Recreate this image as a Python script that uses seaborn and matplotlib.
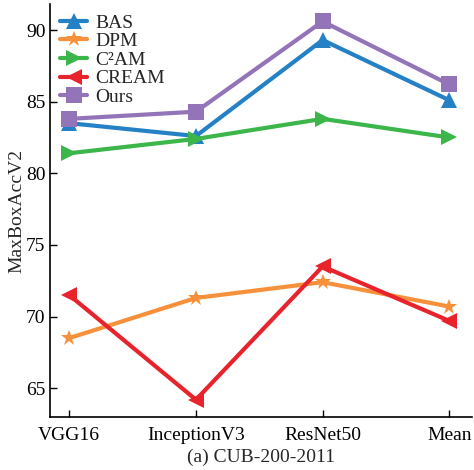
import pandas as pd
import numpy as np
import matplotlib
matplotlib.use('Agg')
import matplotlib.pyplot as plt
import seaborn as sns

# Veriler
backbones = ['VGG16', 'InceptionV3', 'ResNet50', 'Mean']
methods = ['BAS', 'DPM', 'C²AM', 'CREAM', 'Ours']
bas = [83.5, 82.6, 89.3, 85.1]
dpm = [68.5, 71.3, 72.4, 70.7]
c2am = [81.4, 82.4, 83.8, 82.5]
cream = [71.5, 64.2, 73.5, 69.7]
ours = [83.8, 84.3, 90.6, 86.2]

colors = ['#2481c5', '#f7903a', '#3cb64a', '#e8232c', '#9474b8']
marker_list = ['^', '*', '>', '<', 's']

rows = []
for m, vals in zip(methods, [bas, dpm, c2am, cream, ours]):
    for i, v in enumerate(vals):
        rows.append({'Method': m, 'pos': i, 'score': v})
df = pd.DataFrame(rows)

sns.set_style('ticks')
plt.rcParams['font.family'] = ['Liberation Serif', 'DejaVu Serif']

fig = plt.figure(figsize=(4.74, 4.70), dpi=100)
ax = fig.add_axes([0.106, 0.113, 0.89, 0.878])

sns.lineplot(data=df, x='pos', y='score', hue='Method', style='Method',
             hue_order=methods, style_order=methods,
             palette=dict(zip(methods, colors)),
             markers=dict(zip(methods, marker_list)), dashes=False,
             linewidth=3, markersize=12, markeredgewidth=0, ax=ax)

ax.set_xlim(-0.15, 3.18)
ax.set_ylim(63, 91.8)
ax.set_xticks(range(len(backbones)))
ax.set_xticklabels(backbones)
ax.set_yticks([65, 70, 75, 80, 85, 90])
ax.tick_params(direction='in', labelsize=14, length=5, width=1, colors='black')
ax.tick_params(axis='x', pad=7)
ax.set_xlabel('(a) CUB-200-2011', fontsize=14, labelpad=4)
ax.set_ylabel('MaxBoxAccV2', fontsize=14, labelpad=0)
for s in ['top', 'right']:
    ax.spines[s].set_visible(False)
for s in ['left', 'bottom']:
    ax.spines[s].set_linewidth(1.2)
    ax.spines[s].set_color('black')

leg = ax.legend(loc='upper left', frameon=False, fontsize=14, handlelength=1.4,
                borderaxespad=0.1, labelspacing=0.05, handletextpad=0.4,
                bbox_to_anchor=(0.0, 1.0))

fig.savefig('out.png', dpi=100)
